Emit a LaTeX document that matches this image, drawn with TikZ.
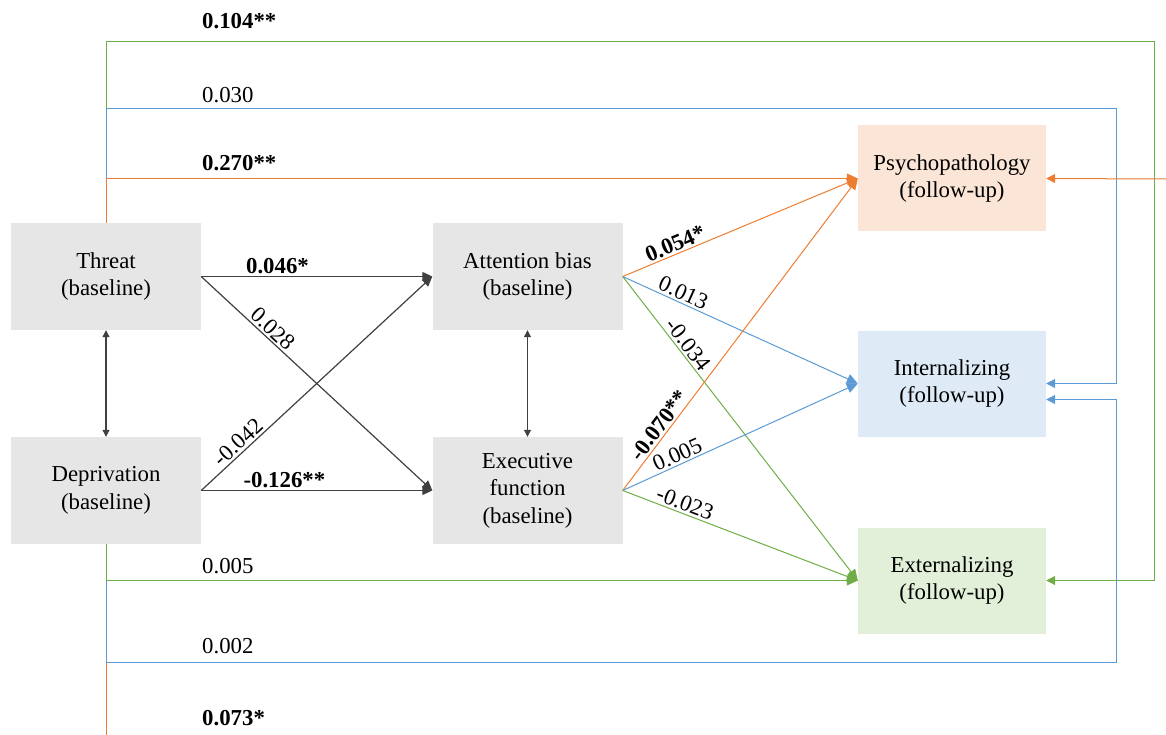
\documentclass[tikz,border=0pt]{standalone}
\usepackage{fontspec}
\setmainfont{Liberation Serif}
\usetikzlibrary{arrows.meta,calc}
\definecolor{org}{HTML}{ED7D31}
\definecolor{blu}{HTML}{5B9BD5}
\definecolor{grn}{HTML}{70AD47}
\definecolor{boxgray}{HTML}{E6E6E6}
\definecolor{peach}{HTML}{FBE5D6}
\definecolor{lblue}{HTML}{DEEBF7}
\definecolor{lgreen}{HTML}{E2F0D9}
\definecolor{dgray}{HTML}{404040}
\begin{document}
\begin{tikzpicture}[x=1pt,y=-1pt,
  every node/.style={font=\fontsize{22.8}{27.5}\selectfont, text=black},
  box/.style={minimum width=190pt, minimum height=107pt, inner sep=0pt, align=center},
  fbox/.style={minimum width=188pt, minimum height=106pt, inner sep=0pt, align=center},
  lbl/.style={inner sep=2pt},
  tl/.style={anchor=west, inner sep=0pt},
  garrow/.style={draw=dgray, line width=1.2pt, -{Triangle[length=10pt,width=9pt]}},
  gboth/.style={draw=dgray, line width=1.1pt, {Triangle[length=7pt,width=7pt]}-{Triangle[length=7pt,width=7pt]}},
  carrow/.style={line width=1pt, -{Triangle[length=11pt,width=10pt]}},
  rarrow/.style={line width=1pt, -{Triangle[length=9pt,width=9pt]}},
  cline/.style={line width=1pt}
]
\useasboundingbox (0,0) rectangle (1166,735);

% nodes
\node[box, fill=boxgray] (threat) at (106,276.5) {Threat\\(baseline)};
\node[box, fill=boxgray] (depr) at (106,490.5) {Deprivation\\(baseline)};
\node[box, fill=boxgray] (attn) at (527.5,276.5) {Attention bias\\(baseline)};
\node[box, fill=boxgray] (exec) at (527.5,490.5) {Executive\\function\\(baseline)};
\node[fbox, fill=peach] (psych) at (952,178.5) {Psychopathology\\(follow-up)};
\node[fbox, fill=lblue] (int) at (952,383.5) {Internalizing\\(follow-up)};
\node[fbox, fill=lgreen] (ext) at (952,580.5) {Externalizing\\(follow-up)};

\coordinate (topG) at (1154,42);
\coordinate (topB) at (1116,109);
\coordinate (botB) at (1116,662);
\coordinate (botO) at (106,735);
\coordinate (rightO) at (1166,179);

% top routed paths (threat)
\draw[rarrow, grn] (threat.north) |- (topG) |- (ext.east);
\draw[rarrow, blu] (threat.north) |- (topB) |- (int.east);
\draw[carrow, org] (threat.north) |- (psych.west);

% bottom routed paths (deprivation)
\draw[cline, org] (depr.south) -- (botO);
\draw[rarrow, blu] (depr.south) |- (botB) |- ($(int.east)+(0,16)$);
\draw[carrow, grn] (depr.south) |- (ext.west);
\draw[rarrow, org] (rightO) -- (psych.east);

% route labels
\node[tl] (l1) at (202,21) {\textbf{0.104**}};
\node[tl] (l2) at (202,95) {0.030};
\node[tl] (l3) at (202,163) {\textbf{0.270**}};
\node[tl] (l4) at (202,566) {0.005};
\node[tl] (l5) at (202,646) {0.002};
\node[tl] (l6) at (202,718) {\textbf{0.073*}};

% left cross arrows
\draw[garrow] (threat.east) -- (attn.west) node[lbl, pos=.33, above] {\textbf{0.046*}};
\draw[garrow] (threat.east) -- (exec.west) node[lbl, pos=.28, above, sloped] {0.028};
\draw[garrow] (depr.east) -- (attn.west) node[lbl, pos=.19, above, sloped] {-0.042};
\draw[garrow] (depr.east) -- (exec.west) node[lbl, pos=.36, above] {\textbf{-0.126**}};

% covariances
\draw[gboth] (threat.south) -- (depr.north);
\draw[gboth] (attn.south) -- (exec.north);

% right arrows
\draw[carrow, org] (attn.east) -- (psych.west) node[lbl, pos=.24, above, sloped] {\textbf{0.054*}};
\draw[carrow, blu] (attn.east) -- (int.west) node[lbl, pos=.24, above, sloped] {0.013};
\draw[carrow, grn] (attn.east) -- (ext.west) node[lbl, pos=.245, above, sloped] {-0.034};
\draw[carrow, org] (exec.east) -- (psych.west) node[lbl, pos=.19, above, sloped] {\textbf{-0.070**}};
\draw[carrow, blu] (exec.east) -- (int.west) node[lbl, pos=.25, above, sloped] {0.005};
\draw[carrow, grn] (exec.east) -- (ext.west) node[lbl, pos=.25, above, sloped] {-0.023};
\end{tikzpicture}
\end{document}
